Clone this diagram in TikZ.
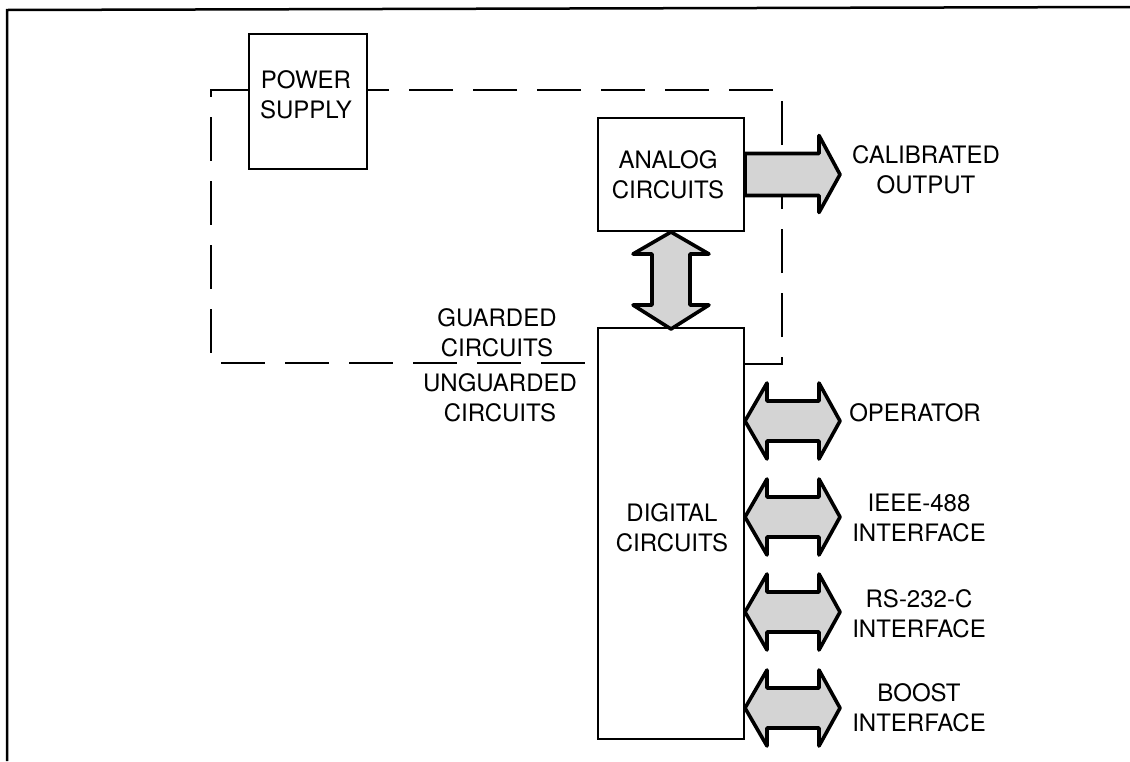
\documentclass[tikz,border=0pt]{standalone}
\usepackage{fontspec}
\setmainfont{TeX Gyre Heros}
\usetikzlibrary{calc}
\tikzset{
  box/.style={draw, line width=2pt, fill=white, inner sep=0pt},
  lbl/.style={align=center, font=\fontsize{24}{30}\selectfont, inner sep=0pt},
  guard/.style={line width=2pt, dash pattern=on 44pt off 20pt},
  blk/.style={draw, line width=3.6pt, fill=black!17, line join=round},
  frameline/.style={line width=2.5pt},
  hdbl/.pic={\path[blk] (0,0) -- (22,-38) -- (22,-20) -- (74,-20) -- (74,-38) -- (95,0)
      -- (74,38) -- (74,20) -- (22,20) -- (22,38) -- cycle;},
  vdbl/.pic={\path[blk] (0,0) -- (38,22) -- (19,22) -- (19,73) -- (38,73) -- (0,97)
      -- (-38,73) -- (-19,73) -- (-19,22) -- (-38,22) -- cycle;},
  sgl/.pic={\path[blk] (0,-21) -- (74,-21) -- (74,-39) -- (95,0) -- (74,38) -- (74,21)
      -- (0,21) -- cycle;},
}
\begin{document}
\begin{tikzpicture}[x=1pt,y=-1pt]
\useasboundingbox (0,0) rectangle (1130,761);
% frame
\draw[frameline] (7,761) -- (7,10) -- (1130,7);

% boxes
\node[box, anchor=north west, minimum width=118pt, minimum height=135pt] (ps) at (248,33) {};
\node[box, anchor=north west, minimum width=146pt, minimum height=113pt] (ana) at (597,117) {};
\node[box, anchor=north west, minimum width=146pt, minimum height=411pt] (dig) at (597,327) {};

% guard line
\coordinate (g1) at (211,90);
\coordinate (g2) at (211,363);
\coordinate (g3) at (782,364);
\coordinate (g4) at (782,90);
\draw[guard] (ps.west |- g1) -- (g1) -- (g2) -- (dig.west |- g2);
\draw[guard] (dig.east |- g3) -- (g3) -- (g4) -- (ps.east |- g4);

% box texts
\node[lbl] (pst) at (306,95) {POWER\\SUPPLY};
\node[lbl] (anat) at (668,175) {ANALOG\\CIRCUITS};
\node[lbl] (digt) at (672,528) {DIGITAL\\CIRCUITS};

% block arrows
\pic at (ana.east) {sgl};
\pic at (ana.south) {vdbl};
\pic at ($(dig.north east)+(0,94)$) {hdbl};
\pic at ($(dig.north east)+(0,190)$) {hdbl};
\pic at ($(dig.north east)+(0,285)$) {hdbl};
\pic at ($(dig.north east)+(0,381)$) {hdbl};

% labels
\node[lbl] (cal) at (926,170) {CALIBRATED\\OUTPUT};
\node[lbl] (op) at (915,413) {OPERATOR};
\node[lbl] (ieee) at (919,518) {IEEE-488\\INTERFACE};
\node[lbl] (rs) at (919,614) {RS-232-C\\INTERFACE};
\node[lbl] (boost) at (919,708) {BOOST\\INTERFACE};
\node[lbl] (grd) at (497,333) {GUARDED\\CIRCUITS};
\node[lbl] (ugrd) at (500,398) {UNGUARDED\\CIRCUITS};
\end{tikzpicture}
\end{document}
